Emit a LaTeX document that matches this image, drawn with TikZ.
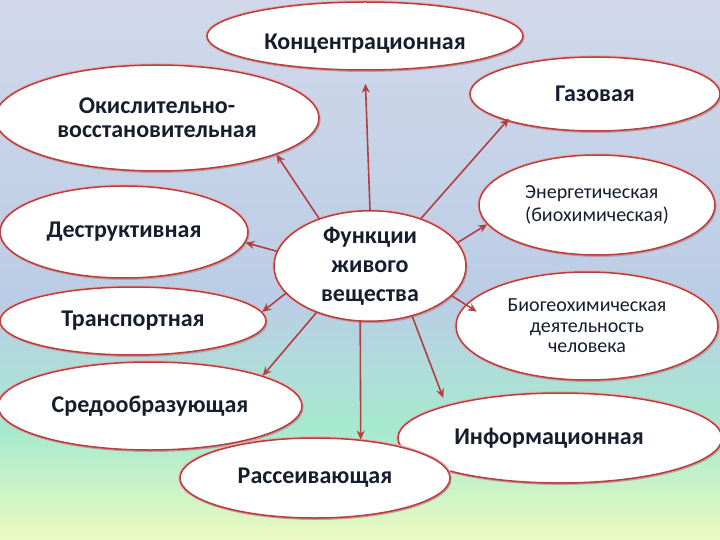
\documentclass[tikz,border=0pt]{standalone}
\usepackage{fontspec}
\setmainfont{Carlito}
\usetikzlibrary{shapes.geometric,arrows.meta,shadows}
\definecolor{bord}{RGB}{180,62,64}
\definecolor{halo}{RGB}{236,178,178}
\definecolor{txt}{RGB}{22,30,46}
\definecolor{bgA}{RGB}{210,216,234}
\definecolor{bgB}{RGB}{186,205,230}
\definecolor{bgC}{RGB}{166,234,206}
\definecolor{bgD}{RGB}{236,250,192}
\begin{document}
\begin{tikzpicture}[x=1pt,y=-1pt,
  fn/.style={ellipse, draw=bord, line width=1.5pt, fill=white, inner sep=0pt,
    align=center, text=txt, font=\bfseries\fontsize{24}{26}\selectfont,
    preaction={draw=halo, line width=3.6pt},
    drop shadow={shadow xshift=1.5pt, shadow yshift=-2pt, opacity=0.15, fill=black}},
  fnlight/.style={fn, font=\fontsize{20}{23}\selectfont},
  arr/.style={draw=bord, line width=1.6pt, -{Stealth[length=9pt,width=8pt]}}]
\useasboundingbox (0,0) rectangle (720,540);
\fill[top color=bgA, bottom color=bgB] (0,0) rectangle (720,300.5);
\fill[top color=bgB, bottom color=bgC] (0,300) rectangle (720,430.5);
\fill[top color=bgC, bottom color=bgD] (0,430) rectangle (720,540);

\node[fn, minimum width=316, minimum height=68, text height=31pt] (conc) at (365,36) {Концентрационная};
\node[fn, minimum width=250, minimum height=74] (gas) at (595,94) {Газовая};
\node[fn, minimum width=324, minimum height=106, font=\bfseries\fontsize{24}{24}\selectfont] (okisl) at (157,118) {Окислительно-\\восстановительная};
\node[fn, minimum width=248, minimum height=92] (destr) at (124,232) {Деструктивная};
\node[fn, minimum width=266, minimum height=68] (trans) at (133,321) {Транспортная};
\node[fnlight, minimum width=236, minimum height=100, align=left] (energy) at (597,205) {Энергетическая\\(биохимическая)};
\node[fnlight, minimum width=262, minimum height=108, font=\fontsize{20}{20.5}\selectfont] (bio) at (587,326) {Биогеохимическая\\деятельность\\человека};
\node[fn, minimum width=324, minimum height=90] (info) at (560,438) {Информационная\hspace*{22pt}};
\node[fn, minimum width=304, minimum height=88] (sred) at (150,406) {Средообразующая};
\node[fn, minimum width=270, minimum height=80] (rass) at (315,478) {Рассеивающая};
\node[fn, minimum width=192, minimum height=106, font=\bfseries\fontsize{24}{29}\selectfont] (c) at (370,266) {Функции\\живого\\вещества};

\draw[arr, shorten >=13pt] (c.north) -- (conc.south);
\draw[arr, shorten >=-3pt] (c.43) -- (gas.-163);
\draw[arr] (c.15) -- (energy.-170);
\draw[arr, shorten >=-13pt] (c.-20) -- (bio.170);
\draw[arr, shorten >=8pt] (c.-50) -- (info.164);
\draw[arr] (c.-100) -- (rass.40);
\draw[arr] (c.-139) -- (sred.15);
\draw[arr] (c.-162) -- (trans.4);
\draw[arr] (c.171) -- (destr.-5);
\draw[arr] (c.137) -- (okisl.-17);
\end{tikzpicture}
\end{document}
